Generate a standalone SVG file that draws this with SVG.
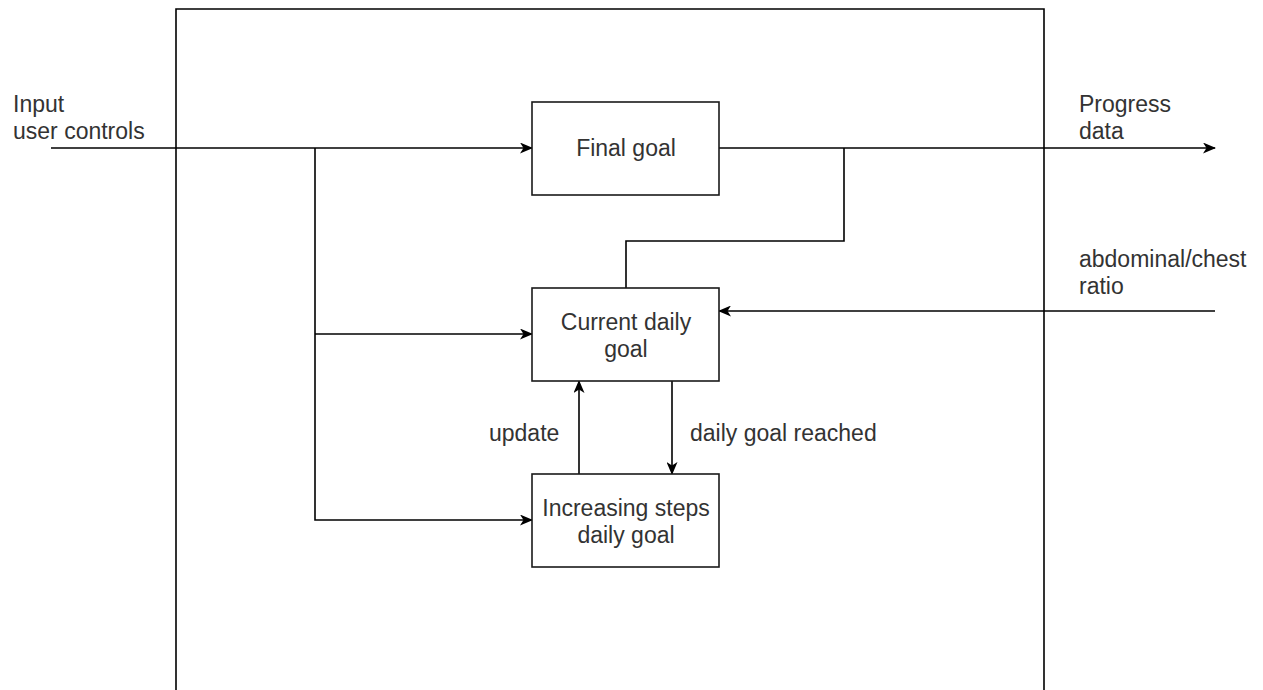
<svg xmlns="http://www.w3.org/2000/svg" width="1263" height="690" viewBox="0 0 1263 690">
  <style>
    .box { fill: #ffffff; stroke: #1a1a1a; stroke-width: 1.6; }
    .edge { fill: none; stroke: #000000; stroke-width: 1.6; }
    .lbl { font-family: "Liberation Sans", Arial, sans-serif; font-size: 23px; fill: #333333; }
    .mid { text-anchor: middle; }
  </style>
  <defs>
    <marker id="arrow" viewBox="0 0 13 11" refX="12" refY="5.5" markerWidth="13" markerHeight="11" markerUnits="userSpaceOnUse" orient="auto">
      <path d="M0,0 L13,5.5 L0,11 L3.5,5.5 Z" fill="#000000"/>
    </marker>
  </defs>
  <rect width="1263" height="690" fill="#ffffff"/>

  <!-- system boundary -->
  <g id="boundary">
    <path class="edge" d="M176,700 V9 H1044 V700"/>
  </g>

  <!-- connectors -->
  <g id="connectors">
    <path class="edge" d="M51,148 H532" marker-end="url(#arrow)"/>
    <path class="edge" d="M315,148 V520 H532" marker-end="url(#arrow)"/>
    <path class="edge" d="M315,334 H532" marker-end="url(#arrow)"/>
    <path class="edge" d="M719,148 H1215" marker-end="url(#arrow)"/>
    <path class="edge" d="M844,148 V241 H626 V288"/>
    <path class="edge" d="M1215,311 H719" marker-end="url(#arrow)"/>
    <path class="edge" d="M579,474 V381" marker-end="url(#arrow)"/>
    <path class="edge" d="M672,381 V474" marker-end="url(#arrow)"/>
  </g>

  <!-- connector labels -->
  <g id="labels">
    <text class="lbl" x="13" y="112">Input</text>
    <text class="lbl" x="13" y="139">user controls</text>
    <text class="lbl" x="1079" y="112">Progress</text>
    <text class="lbl" x="1079" y="139">data</text>
    <text class="lbl" x="1079" y="267">abdominal/chest</text>
    <text class="lbl" x="1079" y="294">ratio</text>
    <text class="lbl" x="489" y="441">update</text>
    <text class="lbl" x="690" y="441">daily goal reached</text>
  </g>

  <g id="final-goal">
    <rect class="box" x="532" y="102" width="187" height="93"/>
    <text class="lbl mid" x="626" y="156">Final goal</text>
  </g>

  <g id="current-daily-goal">
    <rect class="box" x="532" y="288" width="187" height="93"/>
    <text class="lbl mid" x="626" y="330">Current daily</text>
    <text class="lbl mid" x="626" y="357">goal</text>
  </g>

  <g id="increasing-steps">
    <rect class="box" x="532" y="474" width="187" height="93"/>
    <text class="lbl mid" x="626" y="516">Increasing steps</text>
    <text class="lbl mid" x="626" y="543">daily goal</text>
  </g>
</svg>
